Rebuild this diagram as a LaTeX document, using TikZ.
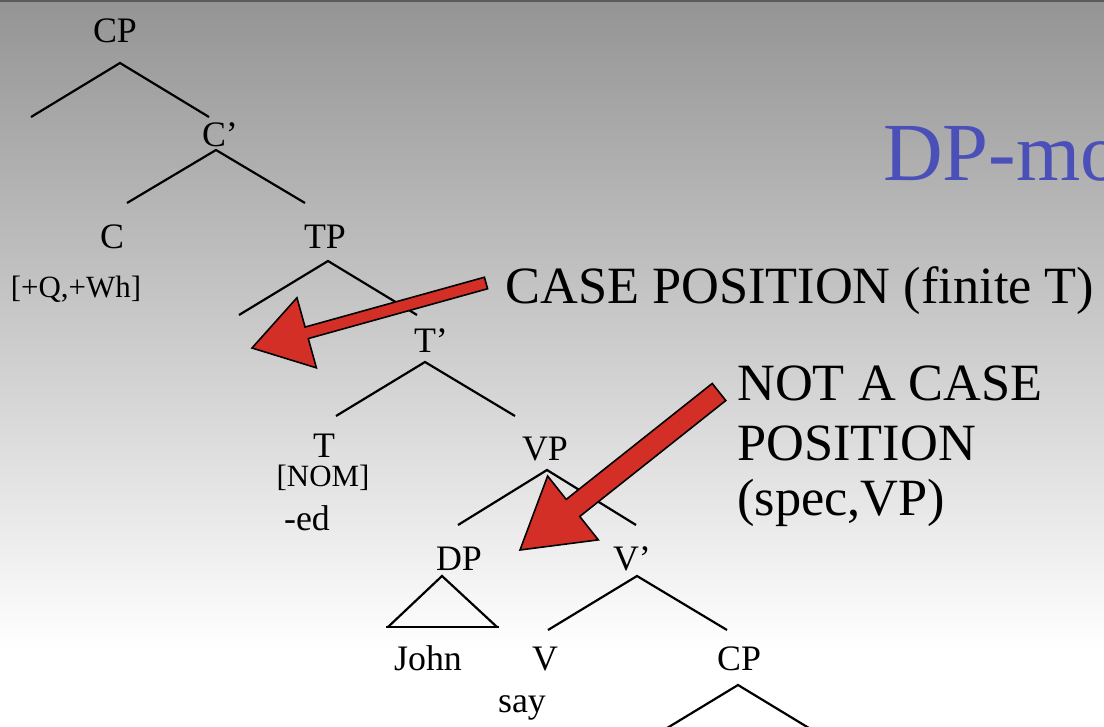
\documentclass[tikz,border=0pt]{standalone}
\usepackage{fontspec}
\setmainfont{Liberation Serif}
\usetikzlibrary{calc}
\definecolor{bgtop}{HTML}{949494}
\definecolor{bgline}{HTML}{5A5A5A}
\definecolor{arrowred}{HTML}{D32F27}
\definecolor{titleblue}{HTML}{4A50B8}
\tikzset{
  lab/.style={font=\fontsize{20.4}{24}\selectfont, anchor=base, inner sep=0pt},
  feat/.style={font=\fontsize{17.6}{20}\selectfont, anchor=base, inner sep=0pt},
  note/.style={font=\fontsize{29.8}{33}\selectfont, anchor=base west, inner sep=0pt},
  edge/.style={line width=1.25pt},
  fat/.style={fill=arrowred, draw=black, line width=0.9pt, line join=miter}
}
% #1 tail, #2 tip, #3 half shaft, #4 half head, #5 head length
\newcommand{\fatarrow}[5]{%
  \draw[fat] let \p1=(#1), \p2=(#2), \n1={atan2(\y1-\y2,\x1-\x2)} in
    (\p2) -- ($(\p2)+(\n1:#5)+(\n1+90:#4)$) -- ($(\p2)+(\n1:#5)+(\n1+90:#3)$)
    -- ($(\p1)+(\n1+90:#3)$) -- ($(\p1)+(\n1-90:#3)$)
    -- ($(\p2)+(\n1:#5)+(\n1-90:#3)$) -- ($(\p2)+(\n1:#5)+(\n1-90:#4)$) -- cycle;}
\begin{document}
\begin{tikzpicture}[x=0.02cm,y=-0.02cm]
  \useasboundingbox (0,0) rectangle (1104,726);
  \clip (0,0) rectangle (1104,726);
  % fond
  \shade[top color=bgtop, bottom color=white] (0,0) rectangle (1104,650);
  \fill[white] (0,650) rectangle (1104,726);
  \fill[bgline] (0,0) rectangle (1104,2.5);
  \node[font=\fontsize{47}{50}\selectfont, text=titleblue, anchor=base west, inner sep=0pt] (title) at (883,180) {DP-mo};

  % branches
  \coordinate (cp-a) at (120,63);   \coordinate (cp-l) at (31,117);   \coordinate (cp-r) at (209,117);
  \coordinate (cb-a) at (216,150);  \coordinate (cb-l) at (127,203);  \coordinate (cb-r) at (305,203);
  \coordinate (tp-a) at (328,261);  \coordinate (tp-l) at (239,315);  \coordinate (tp-r) at (417,315);
  \coordinate (tb-a) at (425,362);  \coordinate (tb-l) at (336,416);  \coordinate (tb-r) at (515,416);
  \coordinate (vp-a) at (547,470);  \coordinate (vp-l) at (458,525);  \coordinate (vp-r) at (636,525);
  \coordinate (vb-a) at (637,576);  \coordinate (vb-l) at (548,630);  \coordinate (vb-r) at (727,630);
  \coordinate (cq-a) at (738,685);  \coordinate (cq-l) at (649,739);  \coordinate (cq-r) at (827,739);
  \draw[edge] (cp-l) -- (cp-a) -- (cp-r);
  \draw[edge] (cb-l) -- (cb-a) -- (cb-r);
  \draw[edge] (tp-l) -- (tp-a) -- (tp-r);
  \draw[edge] (tb-l) -- (tb-a) -- (tb-r);
  \draw[edge] (vp-l) -- (vp-a) -- (vp-r);
  \draw[edge] (vb-l) -- (vb-a) -- (vb-r);
  \draw[edge] (cq-l) -- (cq-a) -- (cq-r);
  % triangle DP
  \coordinate (dp-a) at (442,576); \coordinate (dp-l) at (388,627); \coordinate (dp-r) at (497,627);
  \draw[edge] (dp-l) -- (dp-a) -- (dp-r);
  \draw[edge] ([xshift=-0.04cm]dp-l) -- ([xshift=0.04cm]dp-r);

  % etiquettes
  \node[lab] (cp1) at (115,43) {CP};
  \node[lab] (cbar) at (220,147) {C’};
  \node[lab] (c) at (112,248) {C};
  \node[lab] (tp) at (325,248) {TP};
  \node[feat] (qwh) at (76,297) {[+Q,+Wh]};
  \node[lab] (tbar) at (431,352) {T’};
  \node[lab] (t) at (324,457) {T};
  \node[feat] (nom) at (323,486) {[NOM]};
  \node[lab] (ed) at (307,530) {-ed};
  \node[lab] (vp) at (545,460) {VP};
  \node[lab] (dp) at (459,570) {DP};
  \node[lab] (vbar) at (632,570) {V’};
  \node[lab] (john) at (428,670) {John};
  \node[lab] (v) at (545,670) {V};
  \node[lab] (cp2) at (739,670) {CP};
  \node[lab] (say) at (522,712) {say};

  % fleches
  \node[note] (case) at (505,303) {CASE POSITION (finite T)};
  \node[note] (notcase1) at (737,400) {NOT A CASE};
  \node[note] (notcase2) at (737,460) {POSITION};
  \node[note] (notcase3) at (737,515) {(spec,VP)};
  \coordinate (case-tail) at (486,283);
  \coordinate (spec-tp) at (252,348);
  \coordinate (notcase-tail) at (719,392);
  \coordinate (spec-vp) at (520,550);
  \fatarrow{case-tail}{spec-tp}{3.4pt}{20.7pt}{32.3pt}
  \fatarrow{notcase-tail}{spec-vp}{6.2pt}{23.2pt}{38.5pt}
\end{tikzpicture}
\end{document}
